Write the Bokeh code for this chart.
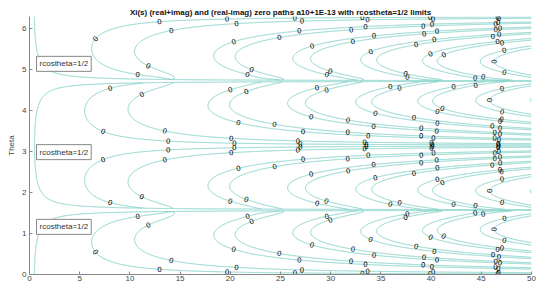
import numpy as np
from math import factorial
import contourpy
from bokeh.plotting import figure
from bokeh.models import Range1d, Label, ColumnDataSource
from bokeh.core.properties import value
from bokeh.embed import file_html
from bokeh.resources import INLINE

# ---------------- chart parameters ----------------
title_text = "Xi(s) (real+imag) and (real-imag) zero paths a10+1E-13 with rcostheta=1/2 limits"
y_label = "Theta"
r_limits = [0, 50]
theta_limits = [0, 2 * np.pi]
x_ticks = [0, 5, 10, 15, 20, 25, 30, 35, 40, 45, 50]
y_ticks = [0, 1, 2, 3, 4, 5, 6]
zero_level = [0.0]              # contour level of (real+imag) and (real-imag)
rcos_limits = [-0.5, 0.5]       # r*cos(theta) = +-1/2 limit curves
note_texts = ["rcostheta=1/2", "rcostheta=1/2", "rcostheta=1/2"]
note_r = [0.7, 0.7, 0.7]
note_theta = [5.13, 2.98, 1.16]
contour_label = "0"

LINE_COLOR = "#7ccfc5"
FONT = "Liberation Sans"

# ---------------- Riemann Xi(s), s = r*exp(i*theta) ----------------
BERN = [1 / 6, -1 / 30, 1 / 42, -1 / 30, 5 / 66, -691 / 2730]


def log_gamma(z):
    acc = np.zeros_like(z)
    w = z.copy()
    for _ in range(8):
        acc -= np.log(w)
        w = w + 1
    lg = ((w - 0.5) * np.log(w) - w + 0.5 * np.log(2 * np.pi)
          + 1 / (12 * w) - 1 / (360 * w ** 3) + 1 / (1260 * w ** 5))
    return lg + acc


def sm1_zeta(w, N=25):
    """(w-1)*zeta(w) via Euler-Maclaurin, Re(w) >= 1/2."""
    S = np.zeros_like(w)
    for n in range(1, N):
        S += np.exp(-w * np.log(n))
    NW = np.exp(-w * np.log(N))
    tail = NW / 2
    poch = w.copy()
    for k in range(1, 7):
        tail = tail + BERN[k - 1] / factorial(2 * k) * poch * NW * float(N) ** (-(2 * k - 1))
        poch = poch * (w + 2 * k - 1) * (w + 2 * k)
    return (w - 1) * (S + tail) + NW * N


def xi_unit(s):
    """unit phasor of Xi at the symmetric representative of s (Re>=1/2, Im>=0)"""
    w = np.where(s.real >= 0.5, s, 1 - s)
    w = np.where(w.imag < 0, np.conj(w), w)
    A = sm1_zeta(w)
    lg = log_gamma(w / 2 + 1)
    ph = lg.imag - 0.5 * w.imag * np.log(np.pi) + np.angle(A)
    return np.exp(1j * ph)


r = np.linspace(0.01, r_limits[1], 1000)
th = np.linspace(theta_limits[0], theta_limits[1], 800)
R, T = np.meshgrid(r, th)
U = xi_unit(R * np.exp(1j * T))
RC = R * np.cos(T)
mask = np.abs(RC) < 0.5

F_plus = np.ma.masked_array(U.real + U.imag, mask)
F_minus = np.ma.masked_array(U.real - U.imag, mask)

paths = []
for F in (F_plus, F_minus):
    gen = contourpy.contour_generator(x=r, y=th, z=F, line_type="Separate")
    for lev in zero_level:
        for P in gen.lines(lev):
            m = P[len(P) // 2]
            u = xi_unit(np.array([m[0] * np.exp(1j * m[1])]))[0]
            if u.imag > 0:
                paths.append(P)

limit_paths = []
genl = contourpy.contour_generator(x=r, y=th, z=RC, line_type="Separate")
for lev in rcos_limits:
    limit_paths.extend(genl.lines(lev))

# ---------------- figure ----------------
FW, FH = 502, 258
p = figure(frame_width=FW, frame_height=FH, output_backend="svg", toolbar_location=None,
           x_range=Range1d(*r_limits), y_range=Range1d(*theta_limits),
           min_border_left=29, min_border_right=7, min_border_top=16, min_border_bottom=12)
p.outline_line_color = None
p.xgrid.visible = False
p.ygrid.visible = False

p.title.text = title_text
p.title.text_font = FONT
p.title.text_font_size = "8px"
p.title.text_font_style = "bold"
p.title.text_color = "#111111"
p.title.align = "center"
p.title.standoff = 0
p.title.offset = 0

all_paths = paths + limit_paths
p.multi_line(xs=[list(P[:, 0]) for P in all_paths], ys=[list(P[:, 1]) for P in all_paths],
             line_color=LINE_COLOR, line_width=0.9)

# contour labels along the paths
sx = FW / (r_limits[1] - r_limits[0])
sy = FH / (theta_limits[1] - theta_limits[0])
lx, ly, la = [], [], []
spacing = 70.0
for P in paths:
    px = P[:, 0] * sx
    py = P[:, 1] * sy
    d = np.hypot(np.diff(px), np.diff(py))
    cum = np.concatenate([[0.0], np.cumsum(d)])
    L = cum[-1]
    if L < 20:
        continue
    n = max(1, int(round(L / spacing)))
    for i in range(n):
        t = (i + 0.5) * L / n
        j = int(np.clip(np.searchsorted(cum, t), 1, len(cum) - 1))
        f = (t - cum[j - 1]) / max(d[j - 1], 1e-9)
        x0 = P[j - 1, 0] + f * (P[j, 0] - P[j - 1, 0])
        y0 = P[j - 1, 1] + f * (P[j, 1] - P[j - 1, 1])
        a = int(np.searchsorted(cum, t - 4))
        b = int(np.clip(np.searchsorted(cum, t + 4), 0, len(cum) - 1))
        a = max(0, min(a, len(cum) - 2))
        if b <= a:
            b = a + 1
        ang = np.arctan2(py[b] - py[a], px[b] - px[a])
        if ang > np.pi / 2:
            ang -= np.pi
        if ang < -np.pi / 2:
            ang += np.pi
        lx.append(x0)
        ly.append(y0)
        la.append(ang)

src = ColumnDataSource(dict(x=lx, y=ly, a=la, t=[contour_label] * len(lx)))
p.text(x="x", y="y", text="t", angle="a", source=src, text_font=value(FONT),
       text_font_size="7.5px", text_align="center", text_baseline="middle", text_color="#000000")

# rcostheta notes
for txt, xr, yt in zip(note_texts, note_r, note_theta):
    p.add_layout(Label(x=xr, y=yt, text=txt, text_font=FONT, text_font_size="8px",
                       text_color="#333333", text_align="left", text_baseline="middle",
                       background_fill_color="white", border_line_color="#888888",
                       border_line_width=1, padding=3))

# axes
p.xaxis.ticker = x_ticks
p.yaxis.ticker = y_ticks
p.yaxis.axis_label = y_label
for ax in (p.xaxis[0], p.yaxis[0]):
    ax.major_tick_in = 3
    ax.major_tick_out = 0
    ax.minor_tick_line_color = None
    ax.axis_line_color = "#888888"
    ax.major_tick_line_color = "#888888"
    ax.major_label_text_color = "#444444"
    ax.major_label_text_font = FONT
    ax.major_label_text_font_size = "8px"
p.xaxis.major_label_standoff = 1
p.xaxis.axis_label_standoff = 0
p.yaxis.major_label_standoff = 3
p.yaxis.axis_label_text_font = FONT
p.yaxis.axis_label_text_font_size = "8px"
p.yaxis.axis_label_text_font_style = "normal"
p.yaxis.axis_label_text_color = "#444444"
p.yaxis.axis_label_standoff = 3

open("out.html", "w").write(file_html(p, INLINE))
